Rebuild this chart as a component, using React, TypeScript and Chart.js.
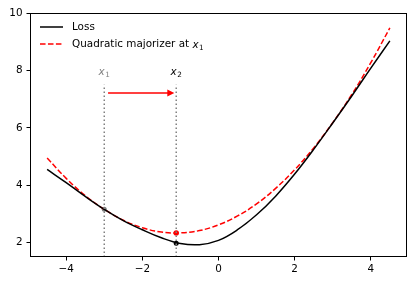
import React, { useEffect, useRef } from 'react';
import { Chart, registerables } from 'chart.js';

Chart.register(...registerables);

// ---- data ----
const xValues = [-4.5, -4, -3.5, -3, -2.5, -2, -1.5, -1, -0.5, 0, 0.5, 1, 1.5, 2, 2.5, 3, 3.5, 4, 4.5];
const lossValues = [4.55, 4.09, 3.61, 3.16, 2.77, 2.45, 2.17, 1.97, 1.93, 2.08, 2.45, 2.97, 3.62, 4.39, 5.25, 6.17, 7.11, 8.08, 9.03];
const majorizerValues = [4.95, 4.24, 3.64, 3.16, 2.78, 2.52, 2.37, 2.34, 2.42, 2.62, 2.93, 3.35, 3.89, 4.54, 5.3, 6.18, 7.16, 8.27, 9.48];

const x1 = -3;
const x2 = -1.11;
const lossAtX1 = 3.16;
const lossAtX2 = 1.98;
const majorizerAtX2 = 2.34;

const vlineBottom = 1.5;
const vlineTop = 7.5;
const labelY = 7.95;
const arrowY = 7.21;
const arrowStart = -2.9;
const arrowEnd = -1.16;

const xTicks = [-4, -2, 0, 2, 4];
const yTicks = [2, 4, 6, 8, 10];
const xRange = [-4.95, 4.95];
const yRange = [1.5, 10];

const legendLabels = ['Loss', 'Quadratic majorizer at '];

const FONT = '"DejaVu Sans", sans-serif';
const FS = 10.4;

function fmt(v: number) {
  return v < 0 ? '\u2212' + Math.abs(v) : String(v);
}

function drawMath(ctx: CanvasRenderingContext2D, base: string, sub: string, x: number, baseline: number, color: string, align: 'left' | 'center') {
  ctx.save();
  ctx.fillStyle = color;
  ctx.textBaseline = 'alphabetic';
  ctx.textAlign = 'left';
  ctx.font = `oblique ${FS}px ${FONT}`;
  const wb = ctx.measureText(base).width;
  ctx.font = `${FS * 0.7}px ${FONT}`;
  const ws = ctx.measureText(sub).width;
  const total = wb + ws + 0.5;
  const startX = align === 'center' ? x - total / 2 : x;
  ctx.font = `oblique ${FS}px ${FONT}`;
  ctx.fillText(base, startX, baseline);
  ctx.font = `${FS * 0.7}px ${FONT}`;
  ctx.fillText(sub, startX + wb + 0.5, baseline + 1.8);
  ctx.restore();
}

const decorPlugin = {
  id: 'decor',
  afterDraw(chart: any) {
    const { ctx, chartArea, scales } = chart;
    const xs = scales.x;
    const ys = scales.y;
    ctx.save();
    // frame
    ctx.strokeStyle = '#000';
    ctx.lineWidth = 1;
    ctx.strokeRect(Math.round(chartArea.left) + 0.5, Math.round(chartArea.top) + 0.5,
      Math.round(chartArea.right - chartArea.left) - 1, Math.round(chartArea.bottom - chartArea.top) - 1);

    // labels x1, x2
    const ly = ys.getPixelForValue(labelY) + 3.5;
    drawMath(ctx, 'x', '1', xs.getPixelForValue(x1), ly, '#808080', 'center');
    drawMath(ctx, 'x', '2', xs.getPixelForValue(x2), ly, '#000', 'center');

    // arrow
    const ay = ys.getPixelForValue(arrowY);
    const ax0 = xs.getPixelForValue(arrowStart);
    const ax1 = xs.getPixelForValue(arrowEnd);
    ctx.strokeStyle = '#ff0000';
    ctx.fillStyle = '#ff0000';
    ctx.lineWidth = 1.5;
    ctx.beginPath();
    ctx.moveTo(ax0, ay);
    ctx.lineTo(ax1 - 6, ay);
    ctx.stroke();
    ctx.beginPath();
    ctx.moveTo(ax1, ay);
    ctx.lineTo(ax1 - 7, ay - 3.5);
    ctx.lineTo(ax1 - 7, ay + 3.5);
    ctx.closePath();
    ctx.fill();

    // legend
    const lx0 = chartArea.left + 10;
    const lx1 = lx0 + 23;
    const tx = lx0 + 32;
    const row1 = 27;
    const row2 = 44;
    ctx.lineWidth = 1.5;
    ctx.strokeStyle = '#000';
    ctx.setLineDash([]);
    ctx.beginPath();
    ctx.moveTo(lx0, row1);
    ctx.lineTo(lx1, row1);
    ctx.stroke();
    ctx.strokeStyle = '#ff0000';
    ctx.setLineDash([5.55, 2.4]);
    ctx.beginPath();
    ctx.moveTo(lx0, row2);
    ctx.lineTo(lx1, row2);
    ctx.stroke();
    ctx.setLineDash([]);
    ctx.fillStyle = '#000';
    ctx.font = `${FS}px ${FONT}`;
    ctx.textBaseline = 'middle';
    ctx.textAlign = 'left';
    ctx.fillText(legendLabels[0], tx, row1 + 0.5);
    ctx.fillText(legendLabels[1], tx, row2 + 0.5);
    const w = ctx.measureText(legendLabels[1]).width;
    drawMath(ctx, 'x', '1', tx + w, row2 + 4, '#000', 'left');
    ctx.restore();
  },
};

export default function App() {
  const ref = useRef<HTMLCanvasElement | null>(null);
  useEffect(() => {
    if (!ref.current) return;
    const chart = new Chart(ref.current, {
      type: 'line',
      data: {
        datasets: [
          {
            label: 'vline1',
            data: [{ x: x1, y: vlineBottom }, { x: x1, y: vlineTop }],
            borderColor: '#808080',
            borderWidth: 1.5,
            borderDash: [1.5, 2.5],
            pointRadius: 0,
          },
          {
            label: 'vline2',
            data: [{ x: x2, y: vlineBottom }, { x: x2, y: vlineTop }],
            borderColor: '#808080',
            borderWidth: 1.5,
            borderDash: [1.5, 2.5],
            pointRadius: 0,
          },
          {
            label: 'Loss',
            data: xValues.map((x, i) => ({ x, y: lossValues[i] })),
            borderColor: '#000',
            borderWidth: 1.5,
            pointRadius: 0,
            tension: 0.4,
          },
          {
            label: 'Quadratic majorizer',
            data: xValues.map((x, i) => ({ x, y: majorizerValues[i] })),
            borderColor: '#ff0000',
            borderWidth: 1.5,
            borderDash: [5.55, 2.4],
            pointRadius: 0,
            tension: 0.4,
          },
          {
            label: 'points',
            data: [{ x: x1, y: lossAtX1 }],
            showLine: false,
            pointRadius: 2.5,
            pointBackgroundColor: '#808080',
            pointBorderWidth: 0,
          },
          {
            label: 'points2',
            data: [{ x: x2, y: lossAtX2 }],
            showLine: false,
            pointRadius: 2.5,
            pointBackgroundColor: '#000',
            pointBorderWidth: 0,
          },
          {
            label: 'points3',
            data: [{ x: x2, y: majorizerAtX2 }],
            showLine: false,
            pointRadius: 2.7,
            pointBackgroundColor: '#ff0000',
            pointBorderWidth: 0,
          },
        ],
      },
      options: {
        animation: false,
        responsive: false,
        layout: { padding: { left: 0, right: 8, top: 13, bottom: 0 } },
        plugins: { legend: { display: false }, tooltip: { enabled: false } },
        scales: {
          x: {
            type: 'linear',
            min: xRange[0],
            max: xRange[1],
            afterBuildTicks: (s: any) => { s.ticks = xTicks.map((v) => ({ value: v })); },
            afterFit: (s: any) => { s.height = 27; },
            border: { display: false },
            grid: { display: true, drawOnChartArea: false, drawTicks: true, tickLength: 3.5, tickWidth: 1, tickColor: '#000' },
            ticks: { color: '#000', font: { family: FONT, size: FS }, padding: 3, maxRotation: 0, callback: (v: any) => fmt(Number(v)) },
          },
          y: {
            type: 'linear',
            min: yRange[0],
            max: yRange[1],
            afterBuildTicks: (s: any) => { s.ticks = yTicks.map((v) => ({ value: v })); },
            afterFit: (s: any) => { s.width = 30; },
            border: { display: false },
            grid: { display: true, drawOnChartArea: false, drawTicks: true, tickLength: 3.5, tickWidth: 1, tickColor: '#000' },
            ticks: { color: '#000', font: { family: FONT, size: FS }, padding: 4, callback: (v: any) => fmt(Number(v)) },
          },
        },
      },
      plugins: [decorPlugin],
    } as any);
    return () => chart.destroy();
  }, []);
  return (
    <div style={{ position: 'absolute', left: 0, top: 0, width: 415, height: 284, background: '#fff' }}>
      <canvas ref={ref} width={415} height={284} style={{ display: 'block' }} />
    </div>
  );
}
